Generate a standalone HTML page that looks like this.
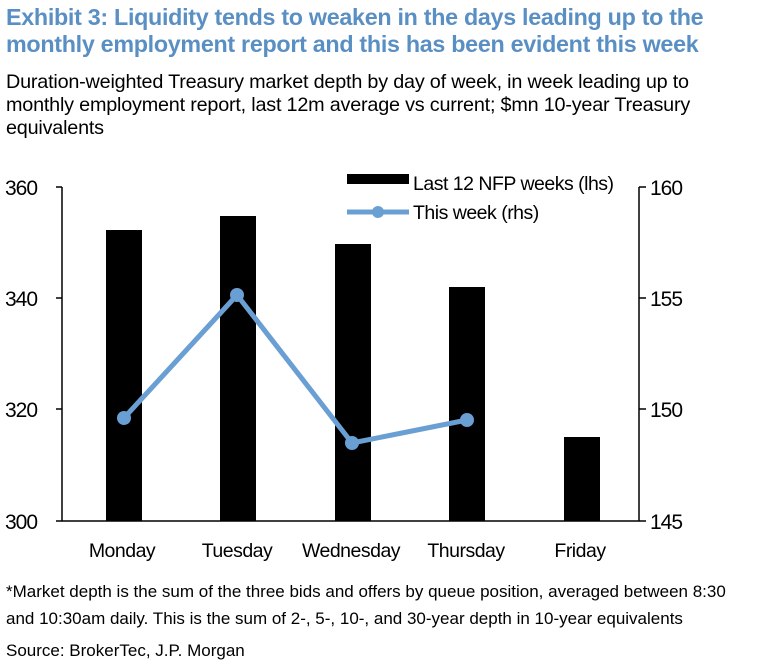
<!DOCTYPE html>
<html><head><style>
body{margin:0;background:#fff;width:758px;height:672px;overflow:hidden;font-family:"Liberation Sans",Arial,sans-serif;}
.t{position:absolute;left:6px;top:4px;color:#5a8fc4;font-weight:bold;font-size:23.3px;line-height:27px;letter-spacing:-0.3px;white-space:nowrap}
.s{position:absolute;left:6px;top:71px;font-size:19.8px;line-height:23px;color:#000;letter-spacing:-0.2px;white-space:nowrap}
.f{position:absolute;left:6px;font-size:17px;color:#000;letter-spacing:0px;white-space:nowrap}
</style></head><body>
<div class="t">Exhibit 3: Liquidity tends to weaken in the days leading up to the<br>monthly employment report and this has been evident this week</div>
<div class="s">Duration-weighted Treasury market depth by day of week, in week leading up to<br>monthly employment report, last 12m average vs current; $mn 10-year Treasury<br>equivalents</div>
<svg width="758" height="672" style="position:absolute;left:0;top:0" font-family="Liberation Sans,Arial,sans-serif">
<g fill="#000">
<rect x="106" y="230" width="36" height="291"/>
<rect x="220" y="216" width="36" height="305"/>
<rect x="335" y="244" width="36" height="277"/>
<rect x="449" y="287" width="36" height="234"/>
<rect x="564" y="437" width="36" height="84"/>
</g>
<g stroke="#000" stroke-width="1.5">
<line x1="62" y1="187" x2="62" y2="521"/>
<line x1="62" y1="521" x2="639" y2="521"/>
<line x1="639" y1="187" x2="639" y2="521"/>
<line x1="56" y1="187" x2="62" y2="187"/><line x1="56" y1="298" x2="62" y2="298"/><line x1="56" y1="409" x2="62" y2="409"/><line x1="56" y1="521" x2="62" y2="521"/>
<line x1="639" y1="187" x2="646" y2="187"/><line x1="639" y1="298" x2="646" y2="298"/><line x1="639" y1="409" x2="646" y2="409"/><line x1="639" y1="521" x2="646" y2="521"/>
</g>
<polyline points="124,418 237,295 352,443 467,420" fill="none" stroke="#6a9fd4" stroke-width="5" stroke-linejoin="round"/>
<g fill="#6a9fd4"><circle cx="124" cy="418" r="7"/><circle cx="237" cy="295" r="7"/><circle cx="352" cy="443" r="7"/><circle cx="467" cy="420" r="7"/></g>
<g font-size="21" fill="#000" letter-spacing="-1">
<text x="5" y="195">360</text><text x="5" y="306">340</text><text x="5" y="417">320</text><text x="5" y="529">300</text>
<text x="650" y="195">160</text><text x="650" y="306">155</text><text x="650" y="417">150</text><text x="650" y="529">145</text>
</g>
<g font-size="19.5" fill="#000" letter-spacing="-0.5">
<g text-anchor="middle"><text x="122" y="557">Monday</text><text x="237" y="557">Tuesday</text><text x="351" y="557">Wednesday</text><text x="466" y="557">Thursday</text><text x="580" y="557">Friday</text></g>
<rect x="347" y="174" width="62" height="10" fill="#000"/>
<text x="413" y="190">Last 12 NFP weeks (lhs)</text>
<line x1="347" y1="212" x2="409" y2="212" stroke="#6a9fd4" stroke-width="5"/>
<circle cx="378" cy="212" r="6" fill="#6a9fd4"/>
<text x="413" y="219">This week (rhs)</text>
</g>
</svg>
<div class="f" style="top:578px;line-height:27px">*Market depth is the sum of the three bids and offers by queue position, averaged between 8:30<br>and 10:30am daily. This is the sum of 2-, 5-, 10-, and 30-year depth in 10-year equivalents</div>
<div class="f" style="top:641px">Source: BrokerTec, J.P. Morgan</div>
</body></html>
